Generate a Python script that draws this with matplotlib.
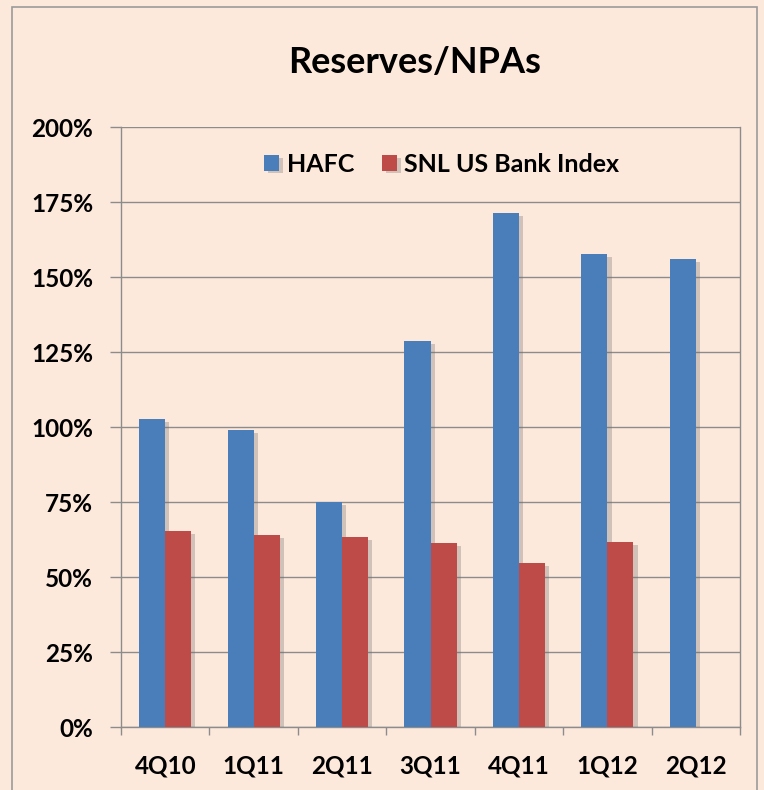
import numpy as np
import matplotlib.pyplot as plt
import matplotlib.patheffects as pe
from matplotlib.patches import Rectangle

# data
quarters = ["4Q10", "1Q11", "2Q11", "3Q11", "4Q11", "1Q12", "2Q12"]
hafc = [102.7, 99.0, 75.0, 128.7, 171.3, 157.7, 156.0]
snl = [65.3, 64.0, 63.3, 61.3, 54.7, 61.7, np.nan]
yticks = [0, 25, 50, 75, 100, 125, 150, 175, 200]

bg = "#fce9db"
blue = "#4a7ebb"
red = "#be4b48"
grid_col = "#8c8c8c"

plt.rcParams["font.family"] = ["Lato", "DejaVu Sans"]

fig = plt.figure(figsize=(7.64, 7.90), dpi=100, facecolor=bg)
ax = fig.add_axes([0.1584, 0.0797, 0.8102, 0.7595])
ax.set_facecolor(bg)

# outer frame of the chart (bottom edge runs off the image)
fig.patches.append(Rectangle((0.0157, -0.02), 0.975, 1.011, transform=fig.transFigure,
                             fill=False, edgecolor="#9a9a9a", linewidth=1.2))

x = np.arange(len(quarters))
w = 0.295
shadow = [pe.SimplePatchShadow(offset=(3, -2), shadow_rgbFace="#6b6b6b", alpha=0.3), pe.Normal()]
b1 = ax.bar(x - w / 2, hafc, width=w, color=blue, label="HAFC", zorder=3)
b2 = ax.bar(x + w / 2, snl, width=w, color=red, label="SNL US Bank Index", zorder=3)
for b in list(b1) + list(b2):
    b.set_path_effects(shadow)

ax.set_xlim(-0.5, len(quarters) - 0.5)
ax.set_ylim(0, 200)
ax.set_yticks(yticks)
ax.set_yticklabels([f"{v}%" for v in yticks])
ax.yaxis.grid(True, color=grid_col, linewidth=1.0, zorder=0)
ax.set_axisbelow(True)

ax.set_xticks(x)
ax.set_xticklabels(quarters)
ax.set_xticks(np.arange(-0.5, len(quarters)), minor=True)
ax.tick_params(axis="x", which="major", length=0, pad=20)
ax.tick_params(axis="x", which="minor", length=6, color=grid_col, width=1.0)
ax.tick_params(axis="y", length=8, color=grid_col, width=1.0, pad=12)
for lbl in ax.get_xticklabels() + ax.get_yticklabels():
    lbl.set_fontsize(17.5)
    lbl.set_fontweight("bold")

for side in ["left", "right", "bottom"]:
    ax.spines[side].set_color(grid_col)
    ax.spines[side].set_linewidth(1.0)
ax.spines["top"].set_visible(False)

leg = ax.legend(loc="upper center", bbox_to_anchor=(0.518, 0.995), ncol=2, frameon=False,
                handlelength=0.6, handleheight=0.6, columnspacing=1.1, handletextpad=0.3,
                prop={"size": 18, "weight": "bold"})

fig.text(0.542, 0.921, "Reserves/NPAs", ha="center", va="center",
         fontsize=26, fontweight="bold")

fig.savefig("out.png", dpi=100, facecolor=bg)
